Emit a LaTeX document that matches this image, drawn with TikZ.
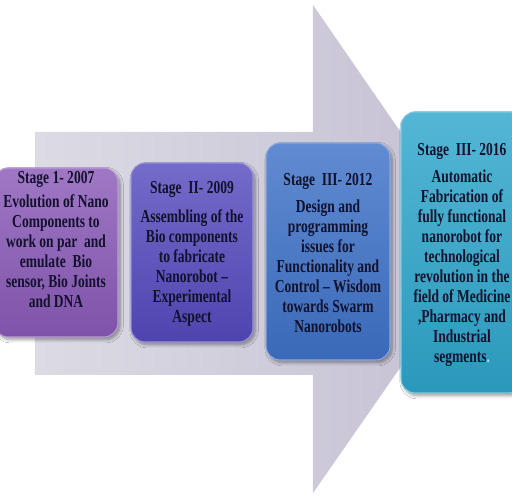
\documentclass[tikz,border=0pt]{standalone}
\usepackage{fontspec}
\setmainfont[FakeStretch=0.74]{Liberation Serif}
\usepackage{xcolor}
\definecolor{arrow-dark}{RGB}{196,191,211}
\definecolor{arrow-light}{RGB}{220,219,228}
\definecolor{stage-one}{RGB}{138,90,184}
\definecolor{stage-two}{RGB}{86,74,190}
\definecolor{stage-three}{RGB}{62,114,200}
\definecolor{stage-four}{RGB}{46,166,204}
\definecolor{stage-text}{RGB}{18,18,45}
\usepackage{tikz}
\usetikzlibrary{shadows.blur}

\begin{document}
\begin{tikzpicture}[
    x=0.02cm, y=-0.02cm,
    stage box/.style={
        rounded corners=8pt,
        draw=#1!60!white,
        line width=0.6pt,
        top color=#1!82!white,
        bottom color=#1!92!black,
        blur shadow={shadow xshift=1.2pt, shadow yshift=-1.5pt, shadow blur steps=6},
        inner sep=0pt
    },
    stage text/.style={
        font=\fontsize{10.4}{11.4}\selectfont\bfseries,
        text=stage-text,
        align=center,
        anchor=north,
        inner sep=0pt
    }
]

% Canvas
\useasboundingbox (0,0) rectangle (512,497);
\fill[white] (0,0) rectangle (512,497);
\clip (0,0) rectangle (512,497);

% Big timeline arrow
\path[left color=arrow-light, right color=arrow-dark]
    (35,132) -- (313,132) -- (313,5) -- (482,250) -- (313,493) -- (313,375) -- (35,375) -- cycle;

% Stage 1
\node[stage box=stage-one, minimum width=2.48cm, minimum height=3.38cm] (s1) at (56,252.5) {};
\node[stage text] (t1) at (56,171) {Stage 1- 2007\\[2pt]
    Evolution of Nano\\ Components to\\ work on par~ and\\ emulate~ Bio\\ sensor, Bio Joints\\ and DNA};

% Stage 2
\node[stage box=stage-two, minimum width=2.44cm, minimum height=3.58cm] (s2) at (192,252.5) {};
\node[stage text] (t2) at (192,181) {Stage~ II- 2009\\[5pt]
    Assembling of the\\ Bio components\\ to fabricate\\ Nanorobot --\\ Experimental\\ Aspect};

% Stage 3
\node[stage box=stage-three, minimum width=2.48cm, minimum height=4.34cm] (s3) at (328,251.5) {};
\node[stage text] (t3) at (328,173) {Stage~ III- 2012\\[4pt]
    Design and\\ programming\\ issues for\\ Functionality and\\ Control -- Wisdom\\ towards Swarm\\ Nanorobots};

% Stage 4
\node[stage box=stage-four, minimum width=2.44cm, minimum height=5.62cm] (s4) at (462,252.5) {};
\node[stage text] (t4) at (462,143) {Stage~ III- 2016\\[4pt]
    Automatic\\ Fabrication of\\ fully functional\\ nanorobot for\\ technological\\ revolution in the\\ field of Medicine\\ ,Pharmacy and\\ Industrial\\ segments\textcolor{stage-four!40!white}{.}};

\end{tikzpicture}
\end{document}
